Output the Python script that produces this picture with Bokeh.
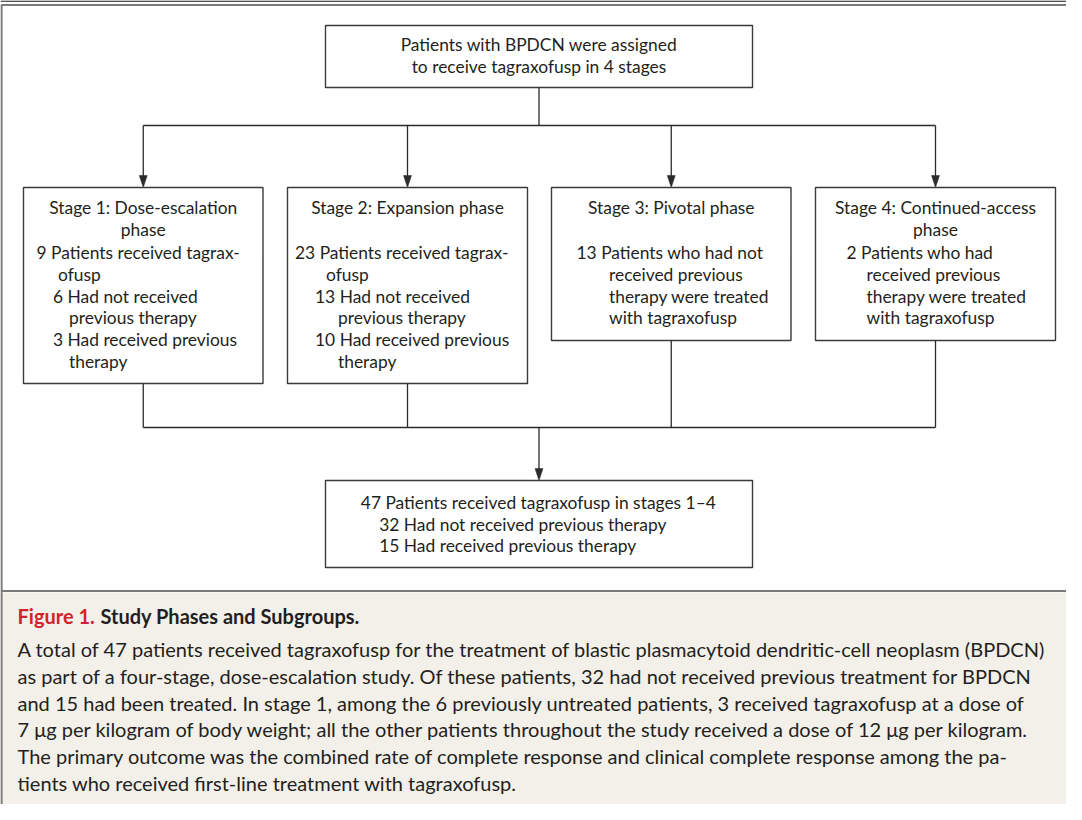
from bokeh.plotting import figure
from bokeh.models import Range1d
from bokeh.core.properties import value
from bokeh.embed import file_html
from bokeh.resources import INLINE

# ---------------- text content (data) ----------------
top_text = ["Patients with BPDCN were assigned",
            "to receive tagraxofusp in 4 stages"]
stage_titles = [["Stage 1: Dose-escalation", "phase"],
                ["Stage 2: Expansion phase"],
                ["Stage 3: Pivotal phase"],
                ["Stage 4: Continued-access", "phase"]]
stage_body = [
    ["9 Patients received tagrax-", "ofusp", "6 Had not received",
     "previous therapy", "3 Had received previous", "therapy"],
    ["23 Patients received tagrax-", "ofusp", "13 Had not received",
     "previous therapy", "10 Had received previous", "therapy"],
    ["13 Patients who had not", "received previous",
     "therapy were treated", "with tagraxofusp"],
    ["2 Patients who had", "received previous",
     "therapy were treated", "with tagraxofusp"],
]
total_text = ["47 Patients received tagraxofusp in stages 1\u20134",
              "32 Had not received previous therapy",
              "15 Had received previous therapy"]
caption_label = "Figure 1."
caption_title = "Study Phases and Subgroups."
caption_body = [
    "A total of 47 patients received tagraxofusp for the treatment of blastic plasmacytoid dendritic-cell neoplasm (BPDCN)",
    "as part of a four-stage, dose-escalation study. Of these patients, 32 had not received previous treatment for BPDCN",
    "and 15 had been treated. In stage 1, among the 6 previously untreated patients, 3 received tagraxofusp at a dose of",
    "7 \u03bcg per kilogram of body weight; all the other patients throughout the study received a dose of 12 \u03bcg per kilogram.",
    "The primary outcome was the combined rate of complete response and clinical complete response among the pa-",
    "tients who received first-line treatment with tagraxofusp.",
]

# ---------------- layout (page pixel coordinates) ----------------
FONT = value("Lato")
BOX_FS = "17.4px"
CAP_FS = "20px"
TXT = "#231f20"
LINE = "#2b2b2b"
BOX = "#3a3a3a"
FRAME = "#7a7a7a"
BEIGE = "#f3f0ea"
RED = "#d2232a"

top_box = dict(l=333, r=760, t=33, b=95)
split_y = 133
stage_left = [31, 295, 559, 823]
stage_right = [270.5, 535, 798.5, 1063]
stage_top = 195
stage_bottom = [391, 391, 348, 348]
body_off = [[13, 34.5, 29.5, 45.5, 29.5, 45.5],
            [7.5, 38.5, 27.5, 50.5, 27.5, 50.5],
            [25, 57.5, 57.5, 57.5],
            [31, 51, 51, 51]]
join_y = 435
bot_box = dict(l=333, r=760, t=488, b=575)
bot_off = [35.3, 53.7, 53.7]

p = figure(width=1066, height=804, output_backend="svg", toolbar_location=None,
           x_range=Range1d(8, 1074), y_range=Range1d(812, 8),
           x_axis_type=None, y_axis_type=None, min_border=0)
p.outline_line_color = None
p.grid.visible = False
p.background_fill_color = "white"
p.border_fill_color = "white"

# caption background and frame
p.quad(left=[8], right=[1074], top=[600], bottom=[812], fill_color=BEIGE, line_color=None)
p.segment(x0=[8], y0=[8.7], x1=[1074], y1=[8.7], line_color="#1a1a1a", line_width=1.3)
p.multi_line(xs=[[9, 9], [9, 1074], [9, 1074]],
             ys=[[12, 812], [12.5, 12.5], [598.5, 598.5]],
             line_color=FRAME, line_width=2.2)


def box(l, r, t, b):
    p.quad(left=[l], right=[r], top=[t], bottom=[b], fill_color="white",
           line_color=BOX, line_width=1.4)


def arrow(x, y0, y1):
    head = 12
    p.segment(x0=[x], y0=[y0], x1=[x], y1=[y1 - head + 1], line_color=LINE, line_width=1.3)
    p.patch(x=[x - 4, x + 4, x], y=[y1 - head, y1 - head, y1], fill_color=LINE, line_color=LINE,
            line_width=0.5)


def txt(xs, ys, texts, size=BOX_FS, align="left", color=TXT, style="normal"):
    p.text(x=xs, y=ys, text=texts, text_font=FONT, text_font_size=size,
           text_align=align, text_baseline="middle", text_color=color,
           text_font_style=style)


# top box
box(top_box["l"], top_box["r"], top_box["t"], top_box["b"])
cx_top = (top_box["l"] + top_box["r"]) / 2
txt([cx_top] * 2, [52, 74], top_text, align="center")

# split connector
centers = [(l + r) / 2 for l, r in zip(stage_left, stage_right)]
p.segment(x0=[cx_top], y0=[top_box["b"]], x1=[cx_top], y1=[split_y], line_color=LINE, line_width=1.3)
p.segment(x0=[centers[0]], y0=[split_y], x1=[centers[-1]], y1=[split_y], line_color=LINE, line_width=1.3)
for c in centers:
    arrow(c, split_y, stage_top)

# stage boxes
line_h = 21.8
for i in range(4):
    box(stage_left[i], stage_right[i], stage_top, stage_bottom[i])
    ty = [215 + k * line_h for k in range(len(stage_titles[i]))]
    txt([centers[i]] * len(ty), ty, stage_titles[i], align="center")
    by = [260 + k * line_h for k in range(len(stage_body[i]))]
    bx = [stage_left[i] + o for o in body_off[i]]
    txt(bx, by, stage_body[i])
    # connector down to join line
    p.segment(x0=[centers[i]], y0=[stage_bottom[i]], x1=[centers[i]], y1=[join_y],
              line_color=LINE, line_width=1.3)

p.segment(x0=[centers[0]], y0=[join_y], x1=[centers[-1]], y1=[join_y], line_color=LINE, line_width=1.3)
cx_bot = (bot_box["l"] + bot_box["r"]) / 2
arrow(cx_bot, join_y, bot_box["t"])

# bottom box
box(bot_box["l"], bot_box["r"], bot_box["t"], bot_box["b"])
txt([bot_box["l"] + o for o in bot_off], [510, 531.5, 553], total_text)

# caption
txt([25], [623], [caption_label], size=CAP_FS, color=RED, style="bold")
txt([108], [623], [caption_title], size=CAP_FS, style="bold")
txt([25] * len(caption_body), [656.7 + k * 26.67 for k in range(len(caption_body))],
    caption_body, size=CAP_FS)

open("out.html", "w").write(file_html(p, INLINE))
